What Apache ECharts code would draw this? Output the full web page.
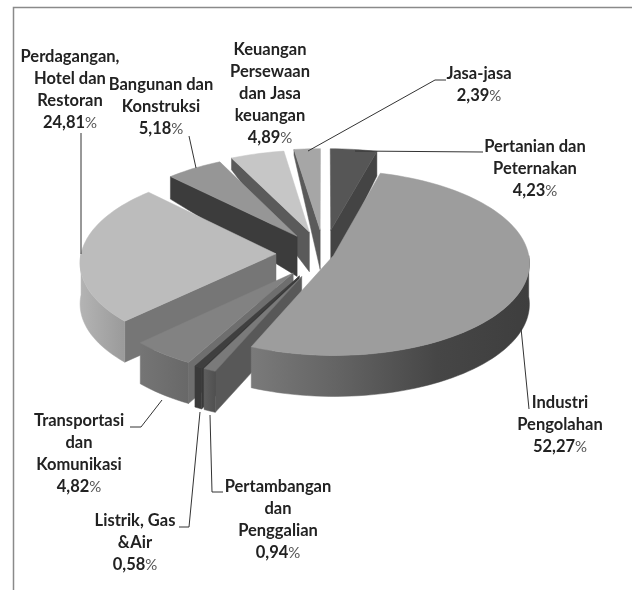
<!DOCTYPE html>
<html>
<head>
<meta charset="utf-8">
<style>html,body{margin:0;padding:0;background:#fff}#main{width:632px;height:590px}</style>
<script src="https://cdn.jsdelivr.net/npm/echarts@6/dist/echarts.min.js"></script>
</head>
<body>
<div id="main"></div>
<script>
// clockwise from 12 o'clock
var categories = ['Pertanian dan\nPeternakan', 'Industri\nPengolahan', 'Pertambangan\ndan\nPenggalian', 'Listrik, Gas\n&Air', 'Transportasi\ndan\nKomunikasi', 'Perdagangan,\nHotel dan\nRestoran', 'Bangunan dan\nKonstruksi', 'Keuangan\nPersewaan\ndan Jasa\nkeuangan', 'Jasa-jasa'];
var values = [4.23, 52.27, 0.94, 0.58, 4.82, 24.81, 5.18, 4.89, 2.39];

// how far each slice is pulled out of the pie
var explode = [52, 10, 52, 52, 50, 48, 47, 50, 52];
// back to front
var drawOrder = [0, 8, 7, 6, 5, 4, 3, 2, 1];

var topColors = ['#565656', '#9d9d9d', '#7a7a7a', '#3f3f3f', '#828282', '#bcbcbc', '#969696', '#c6c6c6', '#a6a6a6'];
var faceColors = ['#444444', '#444444', '#585858', '#3a3a3a', '#6e6e6e', '#767676', '#3c3c3c', '#5a5a5a', '#5a5a5a'];
// left to right over the wall
var wallColors = [['#444444', '#444444'], ['#7a7a7a', '#626262', '#464646', '#3e3e3e'], ['#5e5e5e', '#505050'], ['#3a3a3a', '#3a3a3a'], ['#757575', '#686868'], ['#b4b4b4', '#9a9a9a'], ['#555555', '#555555'], ['#666666', '#666666'], ['#666666', '#666666']];

// label centre x, first line centre y
var labelPos = [[535, 147], [560, 403], [278, 487], [135, 521], [79, 421], [70, 57], [161, 85], [270, 50], [479, 74]];
var leaders = [
  [[483, 152], [355, 151]],
  [[529, 409], [521, 328]],
  [[223, 492], [212, 492], [210, 415]],
  [[179, 527], [189, 527], [200, 412]],
  [[130, 427], [141, 427], [162, 400]],
  [[81, 133], [81, 254]],
  [[189, 136], [196, 168]],
  null,
  [[446, 80], [435, 80], [308, 151]]
];

var cx = 324, cy = 254, R = 195, tilt = 0.47, persp = 0.08, height = 41;
var total = values.reduce(function (a, b) { return a + b; }, 0);

var startAngles = [];
var acc = 0;
values.forEach(function (v) {
  startAngles.push(acc / total * 360);
  acc += v;
});

function rad(d) { return d * Math.PI / 180; }

// ground point -> screen, drop = true gives the point at the bottom of the wall
function project(u, v, drop) {
  var n = v / R;
  var w = 1 / (1 + persp * n);
  var x = cx + u * w;
  var y = cy - v * tilt * w;
  if (drop) {
    // walls get shorter towards the back, more so on the left
    var floor = u > 0 ? 0.6 : 0.1;
    y += height * (n > 0 ? Math.max(floor, 1 - 0.55 * n * n) : 1);
  }
  return [x, y];
}

function renderSlice(params, api) {
  var i = api.value(0);
  var a0 = startAngles[i];
  var a1 = a0 + api.value(1) / total * 360;
  var mid = rad((a0 + a1) / 2);
  var ox = explode[i] * Math.sin(mid);
  var oy = explode[i] * Math.cos(mid);

  function rim(a, drop) {
    return project(ox + R * Math.sin(rad(a)), oy + R * Math.cos(rad(a)), drop);
  }
  function arc(from, to, drop) {
    var pts = [];
    var n = Math.max(2, Math.ceil((to - from) / 2));
    for (var k = 0; k <= n; k++) pts.push(rim(from + (to - from) * k / n, drop));
    return pts;
  }
  var apex = project(ox, oy, false);
  var apexLow = project(ox, oy, true);
  var children = [];

  function poly(points, fill) {
    children.push({ type: 'polygon', shape: { points: points }, style: { fill: fill, stroke: fill, lineWidth: 0.5 } });
  }

  // cut faces that look at the viewer
  if (Math.sin(rad(a0)) < -0.001) poly([apex, rim(a0, false), rim(a0, true), apexLow], faceColors[i]);
  if (Math.sin(rad(a1)) > 0.001) poly([apex, rim(a1, false), rim(a1, true), apexLow], faceColors[i]);

  // outer wall, only the front half of the rim
  var w0 = Math.max(a0, 90), w1 = Math.min(a1, 270);
  if (w1 > w0) {
    var wallPts = arc(w0, w1, false).concat(arc(w0, w1, true).reverse());
    var stops = wallColors[i].map(function (c, k, all) {
      return { offset: k / (all.length - 1), color: c };
    });
    poly(wallPts, new echarts.graphic.LinearGradient(0, 0, 1, 0, stops));
  }

  poly([apex].concat(arc(a0, a1, false)), topColors[i]);
  return { type: 'group', children: children };
}

function labelText(i) {
  return categories[i] + '\n' + values[i].toFixed(2).replace('.', ',') + '{p|%}';
}

var elements = [
  { type: 'polyline', shape: { points: [[13.5, 590], [13.5, 7.5], [632, 7.5]] }, style: { fill: 'none', stroke: '#8a8a8a', lineWidth: 1.5 } }
];
leaders.forEach(function (pts) {
  if (pts) elements.push({ type: 'polyline', z: 5, shape: { points: pts }, style: { fill: 'none', stroke: '#333333', lineWidth: 1 } });
});
categories.forEach(function (c, i) {
  elements.push({
    type: 'text', z: 6, x: labelPos[i][0], y: labelPos[i][1] - 11,
    style: {
      text: labelText(i), textAlign: 'center', font: 'bold 16.5px Lato', lineHeight: 22, fill: '#222222',
      rich: { p: { font: '15px Lato', fill: '#555555', lineHeight: 22 } }
    }
  });
});

var chart = echarts.init(document.getElementById('main'));
chart.setOption({
  backgroundColor: '#ffffff',
  animation: false,
  graphic: { elements: elements },
  series: [{
    type: 'custom',
    coordinateSystem: 'none',
    renderItem: renderSlice,
    data: drawOrder.map(function (i) { return [i, values[i]]; })
  }]
});
</script>
</body>
</html>
